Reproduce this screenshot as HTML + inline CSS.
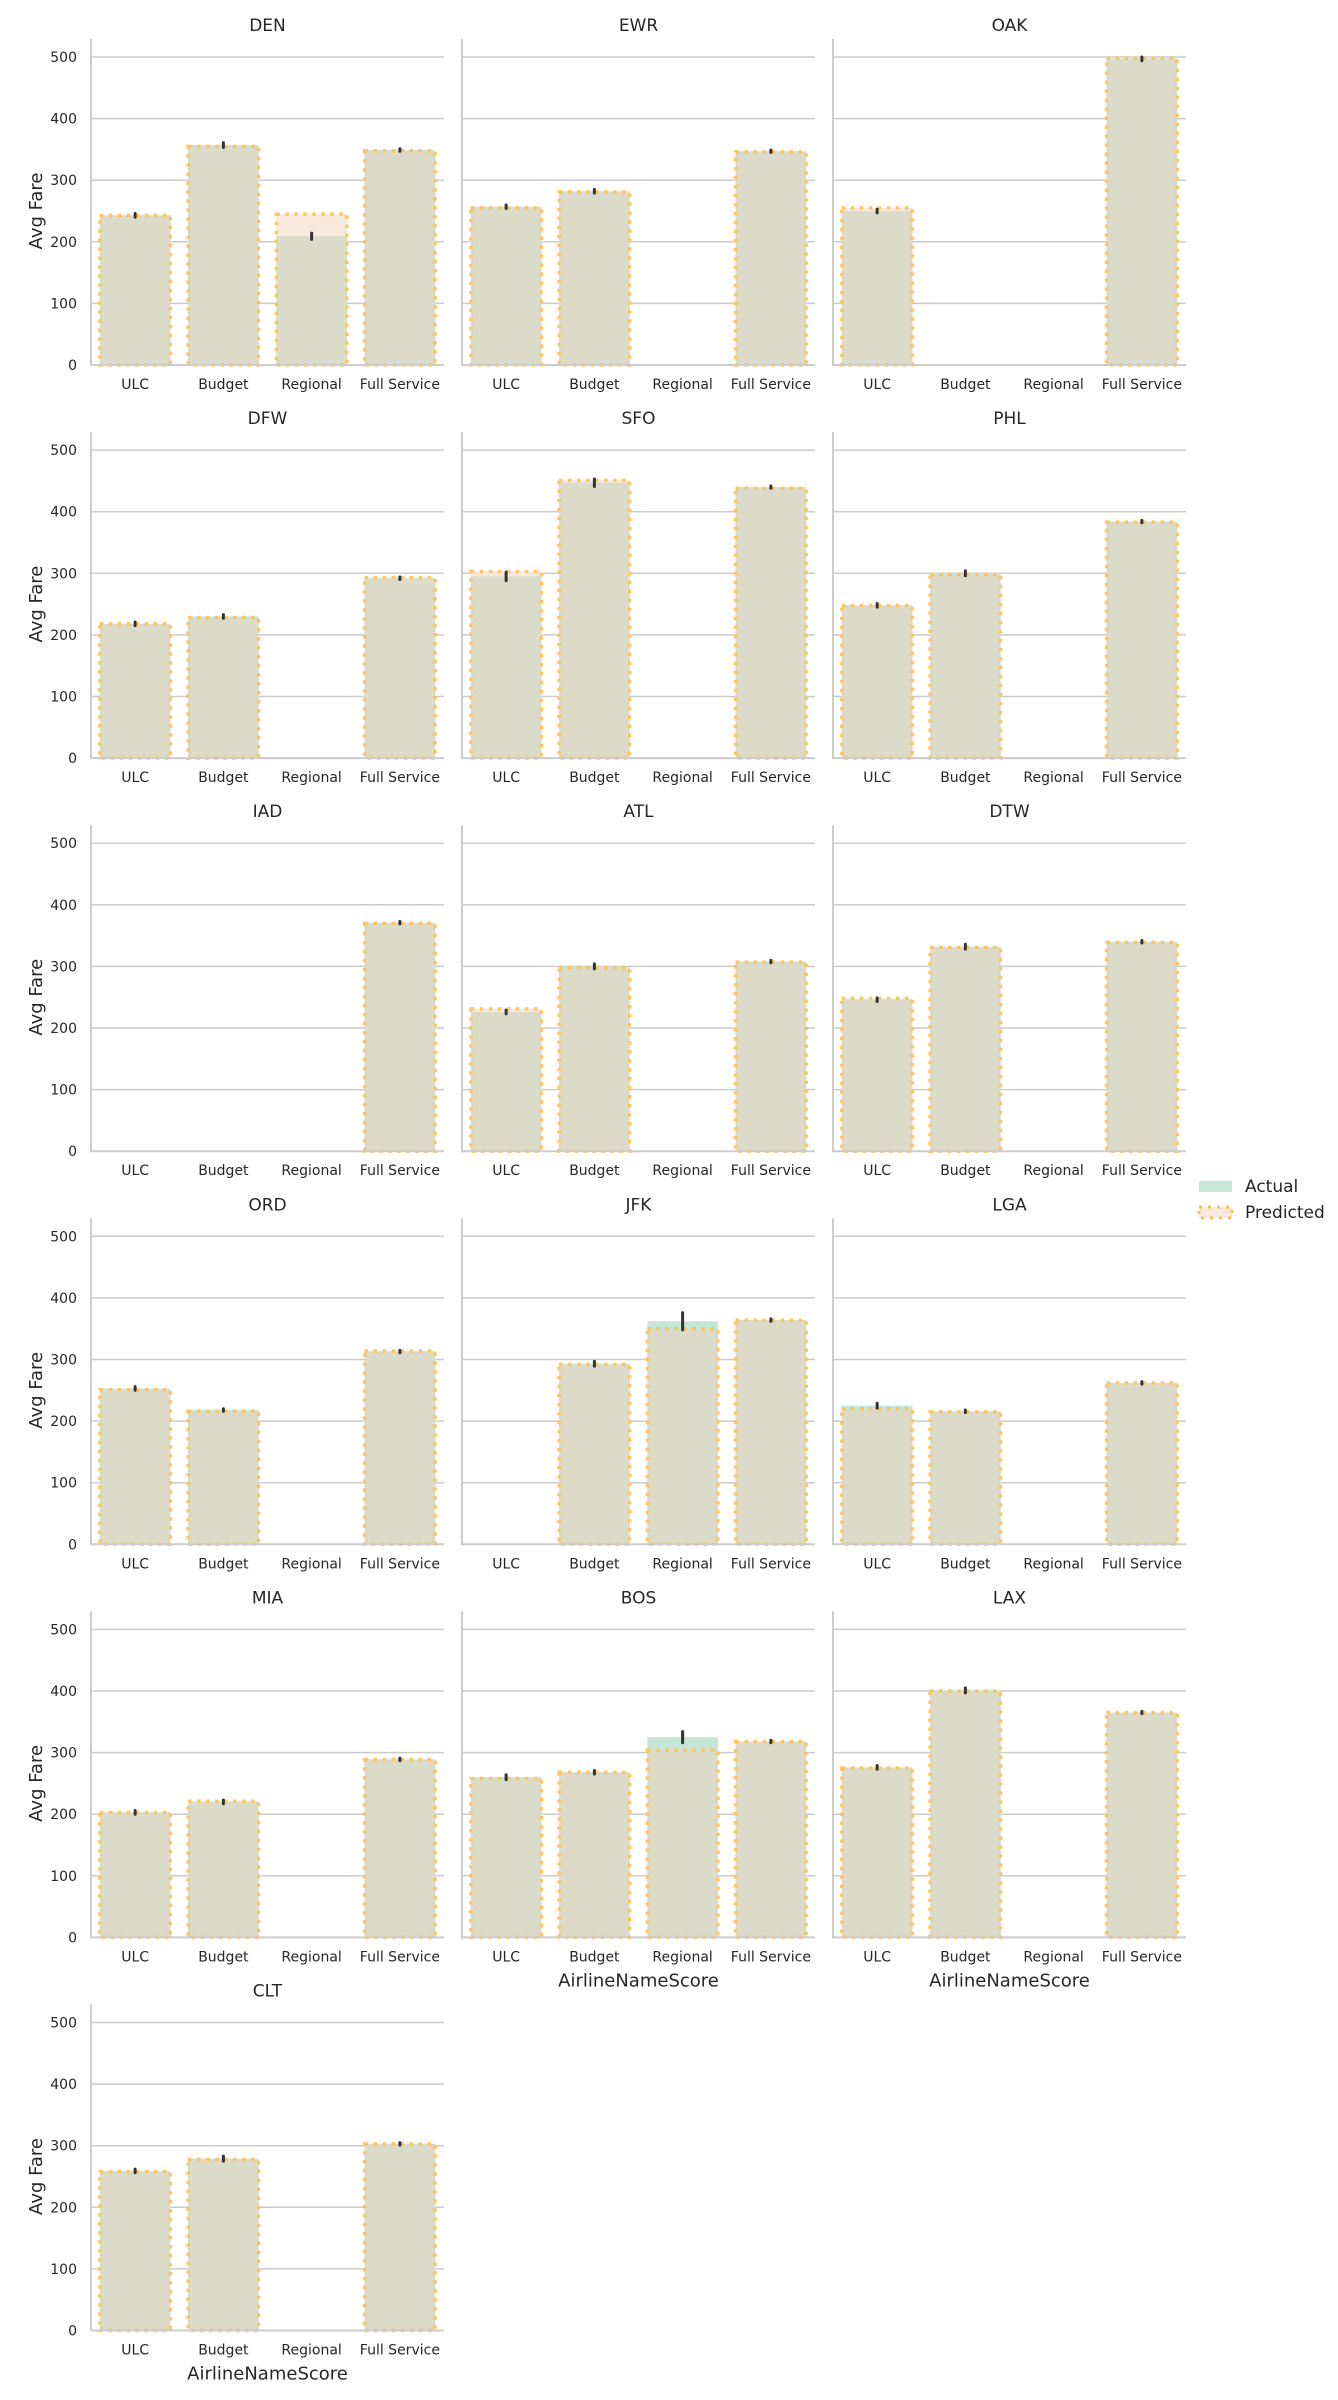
<!DOCTYPE html>
<html><head><meta charset="utf-8">
<style>
html,body{margin:0;padding:0;background:#fff;}
svg{display:block;font-family:"DejaVu Sans","Liberation Sans",sans-serif;}
</style></head>
<body>
<svg id="chart" width="1338" height="2400" viewBox="0 0 1338 2400" xmlns="http://www.w3.org/2000/svg"></svg>
<script>
const airports = ["DEN","EWR","OAK","DFW","SFO","PHL","IAD","ATL","DTW","ORD","JFK","LGA","MIA","BOS","LAX","CLT"];
const categories = ["ULC","Budget","Regional","Full Service"];
const yTicks = [0,100,200,300,400,500];
const actualValues = [
 [243,357,209,349],[257,282,null,347],[250,null,null,497],
 [218,230,null,292],[295,447,null,440],[248,300,null,384],
 [null,null,null,371],[226,300,null,308],[246,332,null,340],
 [253,218,null,313],[null,293,362,364],[225,216,null,262],
 [203,220,null,289],[260,268,325,318],[276,401,null,365],
 [259,279,null,303]
];
const predictedValues = [
 [243,355,245,348],[255,281,null,346],[255,null,null,498],
 [218,228,null,293],[303,451,null,438],[248,298,null,383],
 [null,null,null,370],[231,298,null,307],[248,331,null,339],
 [251,216,null,314],[null,292,350,364],[220,215,null,262],
 [203,221,null,289],[258,268,304,318],[275,400,null,365],
 [258,278,null,303]
];
const errorValues = [
 [3,4,5,2],[3,3,0,2],[3,0,0,3],
 [3,3,0,2],[7,6,0,2],[3,4,0,2],
 [0,0,0,2],[3,4,0,2],[3,4,0,2],
 [3,2,0,2],[0,4,14,2],[4,2,0,2],
 [3,3,0,2],[4,3,9,2],[3,4,0,2],
 [3,4,0,2]
];

const svg = document.getElementById('chart');
const NS = "http://www.w3.org/2000/svg";
function mk(tag, attrs, parent){ const e=document.createElementNS(NS,tag); for(const k in attrs) e.setAttribute(k,attrs[k]); (parent||svg).appendChild(e); return e; }

const colLeft=[91,462,833], axW=353, base0=365, rowPitch=393.1, pxPerUnit=308/500, axH=326;
airports.forEach((ap,i)=>{
  const r=Math.floor(i/3), c=i%3;
  const L=colLeft[c], B=base0+r*rowPitch;
  const y=v=>B-v*pxPerUnit;
  const band=axW/categories.length;
  const xc=j=>L+band*(j+0.5);
  const g=mk('g',{});
  
  
  yTicks.forEach(t=>{
    if(t>0){ const gl=mk('line',{x1:L,x2:L+axW,y1:y(t),y2:y(t),stroke:'#cccccc','stroke-width':1.5},g);
        }
    if(c===0){
      const tl=mk('text',{x:L-14,y:y(t)+5,'text-anchor':'end','font-size':14,fill:'#262626'},g);
      tl.textContent=t;
       
    }
  });
  const bw=band*0.8;
  categories.forEach((cat,j)=>{
    const a=actualValues[i][j], p=predictedValues[i][j];
    const x0=xc(j)-bw/2;
    if(p!=null){ const pr=mk('rect',{x:x0,y:y(p),width:bw,height:B-y(p),fill:'#f9e8dc'},g);
        }
    if(a!=null){ const ar=mk('rect',{x:x0,y:y(a),width:bw,height:B-y(a),fill:'#c6e6d8'},g);
        }
    if(a!=null&&p!=null){ const m=Math.min(a,p);
      const orr=mk('rect',{x:x0,y:y(m),width:bw,height:B-y(m),fill:'#dcdbc9'},g);
        }
    if(p!=null){ const bd=mk('rect',{x:x0,y:y(p),width:bw,height:B-y(p),fill:'none',stroke:'#ffc04d','stroke-opacity':0.85,'stroke-width':3.5,'stroke-dasharray':'3.5 5.5'},g);
        }
    if(a!=null){ const e=errorValues[i][j];
      const el=mk('line',{x1:xc(j),x2:xc(j),y1:y(a+e),y2:y(a-e),stroke:'#333','stroke-width':3,'stroke-linecap':'round'},g);
        }
  });
  const ls=mk('line',{x1:L,x2:L,y1:B-axH,y2:B+1,stroke:'#cccccc','stroke-width':2},g);
   
  const bs=mk('line',{x1:L-1,x2:L+axW,y1:B,y2:B,stroke:'#cccccc','stroke-width':2},g);
   
  categories.forEach((cat,j)=>{
    const t=mk('text',{x:xc(j),y:B+24,'text-anchor':'middle','font-size':14,fill:'#262626'},g);
    t.textContent=cat;
     
  });
  const tt=mk('text',{x:L+axW/2,y:B-334,'text-anchor':'middle','font-size':17,fill:'#262626'},g);
  tt.textContent=ap;
   
  if(c===0){
    const yl=mk('text',{x:0,y:0,'text-anchor':'middle','font-size':18,fill:'#262626',transform:`translate(42,${B-154}) rotate(-90)`},g);
    yl.textContent='Avg Fare';
     
  }
  const isBottom = (i+3>=airports.length);
  if(isBottom){
    const xl=mk('text',{x:L+axW/2,y:B+49,'text-anchor':'middle','font-size':18,fill:'#262626'},g);
    xl.textContent='AirlineNameScore';
     
  }
});
const lg=mk('g',{});
 
const la=mk('rect',{x:1199,y:1181,width:33,height:11,fill:'#c6e6d8'},lg);
 
const t1=mk('text',{x:1245,y:1192,'font-size':17,fill:'#262626'},lg); t1.textContent='Actual';
 
const lp=mk('rect',{x:1199,y:1207,width:33,height:11,fill:'#f9e8dc',stroke:'#ffc04d','stroke-width':3,'stroke-dasharray':'3 6'},lg);
 
const t2=mk('text',{x:1245,y:1218,'font-size':17,fill:'#262626'},lg); t2.textContent='Predicted';
 
</script>
</body></html>
